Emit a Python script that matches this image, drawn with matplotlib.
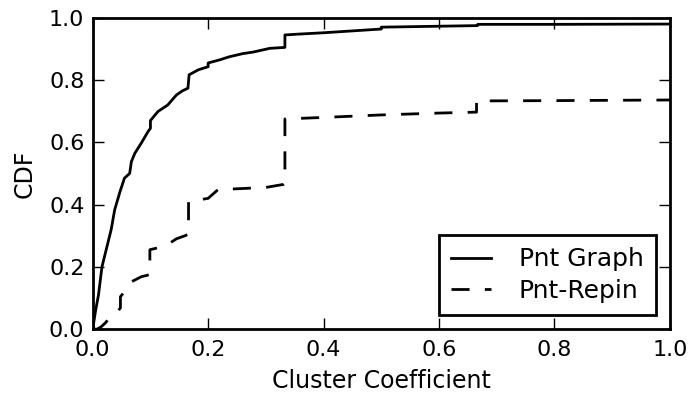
import numpy as np
import matplotlib
matplotlib.use("Agg")
import matplotlib.pyplot as plt

# CDF of cluster coefficient
pnt_x = [0.0, 0.005, 0.010, 0.016, 0.024, 0.032, 0.038, 0.047, 0.055, 0.064, 0.067,
         0.073, 0.084, 0.096, 0.100, 0.100, 0.113, 0.130, 0.145, 0.155, 0.165, 0.167,
         0.183, 0.200, 0.200, 0.220, 0.237, 0.260, 0.278, 0.307, 0.333, 0.333, 0.360,
         0.400, 0.450, 0.500, 0.500, 0.600, 0.667, 0.667, 0.800, 1.0]
pnt_y = [0.0, 0.06, 0.11, 0.20, 0.26, 0.32, 0.383, 0.44, 0.485, 0.50, 0.538,
         0.565, 0.597, 0.635, 0.645, 0.67, 0.699, 0.72, 0.752, 0.765, 0.774, 0.817,
         0.833, 0.843, 0.855, 0.865, 0.875, 0.885, 0.89, 0.902, 0.905, 0.945, 0.948,
         0.952, 0.958, 0.964, 0.970, 0.973, 0.975, 0.979, 0.979, 0.98]

repin_x = [0.0, 0.008, 0.015, 0.022, 0.029, 0.040, 0.048, 0.048, 0.055, 0.067, 0.084,
           0.099, 0.099, 0.115, 0.130, 0.145, 0.160, 0.166, 0.166, 0.200, 0.217, 0.300,
           0.331, 0.333, 0.333, 0.400, 0.500, 0.600, 0.665, 0.665, 0.800, 1.0]
repin_y = [0.0, 0.0, 0.008, 0.02, 0.035, 0.05, 0.068, 0.104, 0.12, 0.152, 0.168,
           0.175, 0.255, 0.262, 0.272, 0.29, 0.30, 0.305, 0.41, 0.42, 0.448, 0.455,
           0.465, 0.468, 0.675, 0.680, 0.688, 0.694, 0.697, 0.733, 0.734, 0.736]

plt.rcParams['font.family'] = ['DejaVu Sans']

fig = plt.figure(figsize=(6.92, 3.96), dpi=100)
ax = fig.add_axes([0.134, 0.169, 0.834, 0.786])

ax.plot(pnt_x, pnt_y, color='black', lw=2, label='Pnt Graph')
ax.plot(repin_x, repin_y, color='black', lw=2, linestyle=(0, (6.5, 5.5)), label='Pnt-Repin')

ax.set_xlim(0, 1)
ax.set_ylim(0, 1)
ax.set_xticks(np.arange(0, 1.01, 0.2))
ax.set_yticks(np.arange(0, 1.01, 0.2))
ax.set_xlabel('Cluster Coefficient', fontsize=17, labelpad=6)
ax.set_ylabel('CDF', fontsize=17, labelpad=9)

for s in ax.spines.values():
    s.set_linewidth(2)
ax.tick_params(direction='in', length=8, width=1, top=True, right=True,
               labelsize=16)
ax.tick_params(axis='x', pad=8)
ax.tick_params(axis='y', pad=6)

leg = ax.legend(loc='lower right', fontsize=18, fancybox=False, framealpha=1,
                handlelength=1.6, handletextpad=1.1, borderpad=0.5,
                borderaxespad=0.55, labelspacing=0.3)
leg.get_frame().set_edgecolor('black')
leg.get_frame().set_linewidth(2)

fig.savefig('out.png', dpi=100)
